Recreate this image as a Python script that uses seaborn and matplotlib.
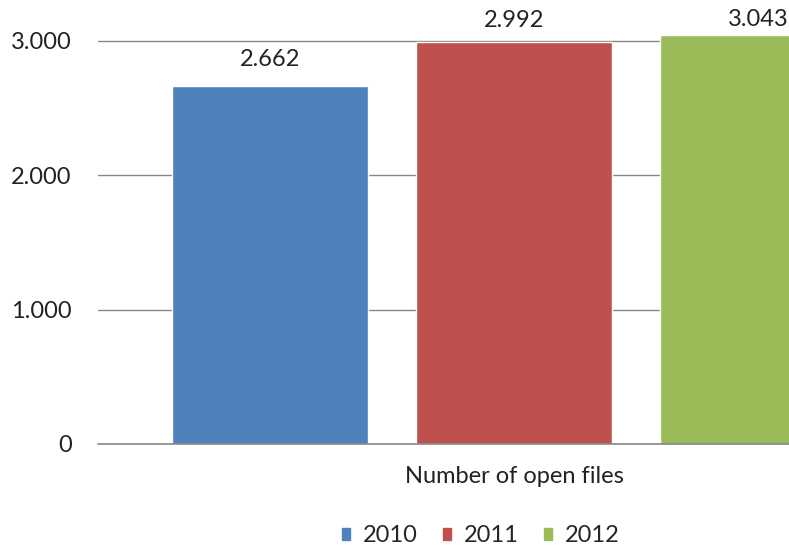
import matplotlib
matplotlib.use("Agg")
import matplotlib.pyplot as plt
import seaborn as sns
import pandas as pd
from matplotlib.ticker import FuncFormatter

# data
years = ["2010", "2011", "2012"]
open_files = [2662, 2992, 3043]
category = ["Number of open files"] * 3
colors = ["#4F81BD", "#C0504D", "#9BBB59"]

df = pd.DataFrame({"cat": category, "year": years, "value": open_files})

sns.set_style("white")
plt.rcParams["font.family"] = ["Lato", "DejaVu Sans"]
fs = 17

fig = plt.figure(figsize=(7.89, 5.48), dpi=100)
# plot area is cut off on the right in the original, so axes run past the figure edge
ax = fig.add_axes([98 / 789, 104 / 548, 832 / 789, 444 / 548])

sns.barplot(data=df, x="cat", y="value", hue="year", palette=colors,
            width=0.88, gap=0.197, saturation=1, ax=ax, legend=False)

ax.set_xlim(-0.5, 0.5)
ax.set_ylim(0, 3305)
ax.set_yticks([0, 1000, 2000, 3000])
ax.yaxis.set_major_formatter(FuncFormatter(lambda v, p: f"{int(v):,}".replace(",", ".")))
ax.grid(axis="y", color="#868686", linewidth=1)
ax.set_axisbelow(True)
for s in ax.spines.values():
    s.set_visible(False)
ax.axhline(0, color="#868686", linewidth=1.2, clip_on=False, zorder=3)
ax.tick_params(axis="y", length=0, pad=19, labelsize=fs, colors="#222222")
ax.tick_params(axis="x", length=0, pad=16, labelsize=fs, colors="#222222")
ax.set_xlabel("")
ax.set_ylabel("")

# labels near the top get pushed down to stay inside the picture, like the original
pads = [12, 8, 3.5]
for cont, pd_ in zip(ax.containers, pads):
    ax.bar_label(cont, labels=[f"{int(v):,}".replace(",", ".") for v in cont.datavalues],
                 padding=pd_, fontsize=fs, color="#222222")

handles = [plt.Rectangle((0, 0), 1, 1, color=c) for c in colors]
fig.legend(handles, years, loc="center", bbox_to_anchor=(481 / 789, 1 - 536 / 548),
           ncol=3, frameon=False, fontsize=fs, handlelength=0.35, handleheight=0.35,
           handletextpad=0.55, columnspacing=1.05, borderpad=0)

fig.savefig("out.png", dpi=100)
